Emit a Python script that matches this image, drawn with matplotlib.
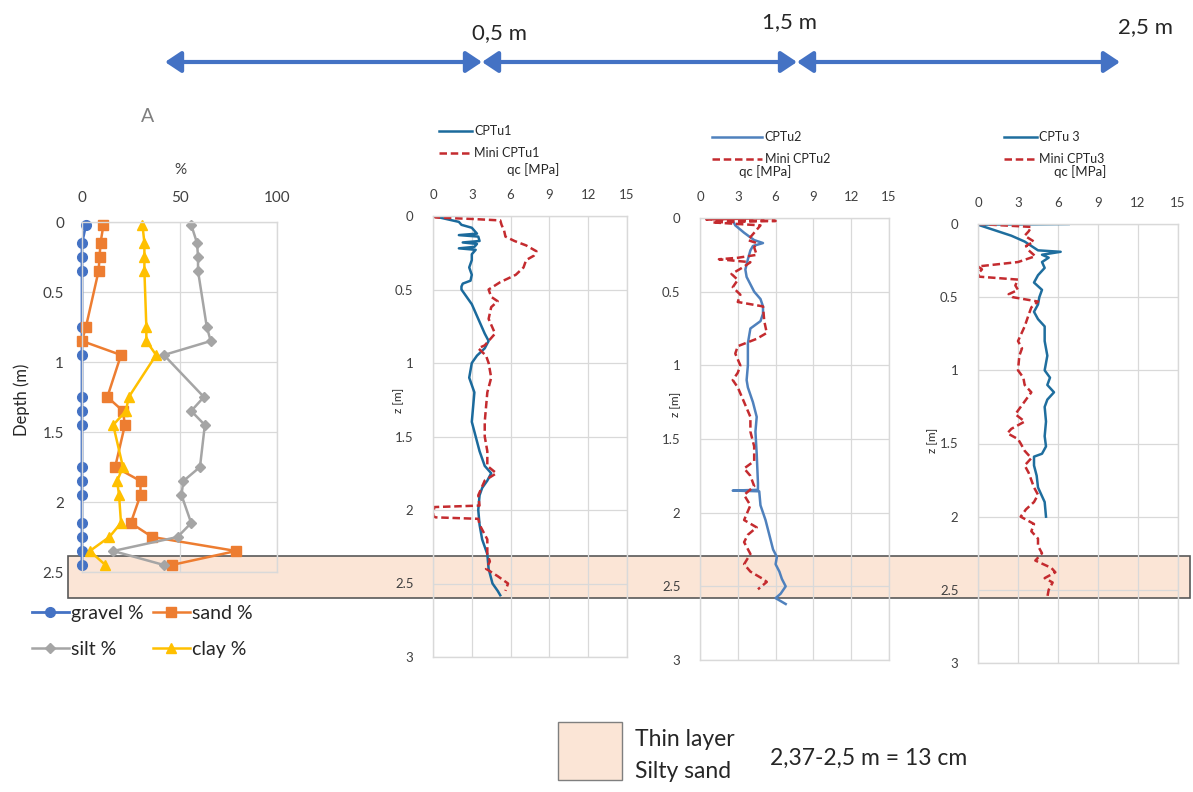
import matplotlib.pyplot as plt
from matplotlib.patches import Rectangle
from matplotlib.lines import Line2D

plt.rcParams['font.family'] = ['Lato', 'DejaVu Sans']

W, H = 1193, 792

# ---------------- panel A: grain size distribution ----------------
depth_a = [0.02, 0.15, 0.25, 0.35, 0.75, 0.85, 0.95, 1.25, 1.35, 1.45,
           1.75, 1.85, 1.95, 2.15, 2.25, 2.35, 2.45]
gravel = [2, 0, 0, 0, 0, 0, 0, 0, 0, 0, 0, 0, 0, 0, 0, 0, 0]
sand = [11, 9.5, 9, 8.5, 2, 0, 20, 13, 21, 22, 17, 30, 30, 25, 36, 79, 46]
silt = [56, 59, 59.5, 59.5, 64, 66, 42, 62.5, 56, 63, 60.5, 52, 51, 56, 49, 16, 42]
clay = [31, 32, 32, 32, 33, 33, 38, 24, 22.5, 16, 21, 18, 19, 20, 14, 4, 12]
pct_ticks = [0, 50, 100]
depth_ticks_a = [0, 0.5, 1, 1.5, 2, 2.5]
depth_labels_a = ['0', '0.5', '1', '1.5', '2', '2.5']

# ---------------- CPTu profiles: z [m], qc [MPa] ----------------
cptu1_z = [0.00, 0.02, 0.04, 0.06, 0.08, 0.10, 0.12, 0.13, 0.14, 0.17,
           0.18, 0.19, 0.21, 0.22, 0.23, 0.26, 0.30, 0.35, 0.40, 0.44,
           0.46, 0.48, 0.50, 0.55, 0.60, 0.70, 0.80, 0.85, 0.90, 0.95,
           1.00, 1.10, 1.15, 1.20, 1.30, 1.40, 1.50, 1.60, 1.70, 1.75,
           1.80, 1.85, 1.90, 2.00, 2.10, 2.20, 2.30, 2.40, 2.50, 2.55, 2.58]
cptu1_q = [0.0, 1.0, 2.0, 2.2, 3.0, 3.2, 3.4, 2.0, 3.5, 3.6,
           2.3, 3.4, 3.2, 2.0, 3.3, 3.0, 3.0, 2.8, 3.0, 2.9,
           2.3, 2.2, 2.2, 2.6, 3.0, 3.5, 4.0, 4.3, 4.0, 3.4,
           3.0, 2.8, 3.0, 3.2, 3.1, 3.0, 3.3, 3.6, 4.0, 4.5,
           4.2, 3.8, 3.6, 3.5, 3.6, 3.8, 4.2, 4.3, 4.6, 5.0, 5.2]
mini1_z = [0.00, 0.01, 0.02, 0.03, 0.06, 0.10, 0.14, 0.17, 0.20, 0.24,
           0.27, 0.30, 0.35, 0.40, 0.45, 0.50, 0.55, 0.58, 0.62, 0.70,
           0.80, 0.88, 0.90, 0.95, 1.00, 1.10, 1.20, 1.30, 1.40, 1.50,
           1.60, 1.70, 1.75, 1.80, 1.90, 1.97, 1.98, 2.04, 2.05, 2.06,
           2.10, 2.20, 2.30, 2.35, 2.40, 2.45, 2.50, 2.55]
mini1_q = [0.0, 0.2, 3.0, 5.2, 5.3, 5.5, 5.6, 6.3, 7.2, 8.0,
           7.8, 7.2, 7.0, 6.4, 5.2, 4.3, 4.5, 5.0, 4.5, 4.3,
           4.8, 4.0, 3.5, 4.1, 4.3, 4.5, 4.2, 4.1, 4.0, 4.0,
           4.2, 4.2, 4.9, 4.0, 3.5, 3.6, 0.1, 0.0, 0.2, 3.5,
           3.6, 4.2, 4.2, 4.4, 4.1, 5.0, 5.8, 5.6]

cptu2_z = [0.00, 0.05, 0.10, 0.15, 0.17, 0.19, 0.22, 0.28, 0.35, 0.40,
           0.50, 0.55, 0.60, 0.65, 0.70, 0.75, 0.85, 1.00, 1.10, 1.15,
           1.25, 1.35, 1.45, 1.60, 1.80, 1.845, 1.85, 1.855, 1.95, 2.05,
           2.15, 2.25, 2.30, 2.35, 2.40, 2.45, 2.50, 2.55, 2.58, 2.62]
cptu2_q = [2.5, 2.8, 3.5, 4.3, 5.0, 4.2, 4.0, 3.8, 3.6, 3.7,
           4.3, 4.8, 5.0, 5.0, 4.8, 4.0, 3.8, 3.8, 3.7, 3.8,
           4.2, 4.5, 4.4, 4.5, 4.6, 4.6, 2.6, 4.7, 4.8, 5.2,
           5.5, 5.8, 6.1, 6.0, 6.3, 6.5, 6.8, 6.4, 6.0, 6.8]
mini2_z = [0.00, 0.01, 0.02, 0.03, 0.05, 0.10, 0.15, 0.17, 0.20, 0.25,
           0.27, 0.28, 0.30, 0.33, 0.38, 0.42, 0.47, 0.52, 0.57, 0.60,
           0.70, 0.78, 0.82, 0.87, 0.92, 1.00, 1.05, 1.10, 1.15, 1.25,
           1.35, 1.45, 1.55, 1.65, 1.70, 1.75, 1.82, 1.88, 1.95, 2.05,
           2.10, 2.15, 2.20, 2.28, 2.35, 2.40, 2.45, 2.47, 2.52]
mini2_q = [6.0, 0.5, 6.0, 1.0, 4.8, 4.3, 3.8, 4.5, 4.3, 4.5,
           3.0, 1.5, 4.0, 3.5, 2.5, 3.0, 2.6, 3.2, 3.0, 5.0,
           5.1, 5.3, 4.5, 3.0, 2.8, 3.2, 3.0, 2.6, 3.0, 3.5,
           4.0, 4.0, 4.3, 4.3, 3.5, 4.0, 4.3, 3.5, 4.0, 3.5,
           4.5, 3.8, 3.5, 4.0, 3.5, 4.0, 5.0, 5.3, 4.6]

cptu3_z = [0.00, 0.005, 0.02, 0.05, 0.08, 0.12, 0.15, 0.18, 0.19, 0.21,
           0.23, 0.26, 0.30, 0.35, 0.40, 0.45, 0.50, 0.55, 0.60, 0.65,
           0.70, 0.80, 0.90, 1.00, 1.05, 1.10, 1.15, 1.20, 1.25, 1.35,
           1.45, 1.52, 1.57, 1.59, 1.65, 1.72, 1.80, 1.90, 2.00]
cptu3_q = [6.8, 0.0, 0.5, 1.5, 2.5, 3.5, 4.0, 4.5, 6.2, 4.8,
           5.3, 4.8, 5.0, 4.5, 4.2, 4.8, 4.6, 4.5, 4.2, 4.5,
           5.0, 5.0, 5.2, 5.0, 5.4, 5.2, 5.7, 5.2, 5.0, 5.1,
           5.0, 5.1, 4.8, 4.2, 4.2, 4.4, 4.5, 5.0, 5.1]
mini3_z = [0.00, 0.01, 0.02, 0.05, 0.08, 0.12, 0.15, 0.18, 0.22, 0.26,
           0.29, 0.31, 0.34, 0.36, 0.38, 0.42, 0.45, 0.48, 0.50, 0.53,
           0.57, 0.62, 0.70, 0.80, 0.85, 0.90, 1.00, 1.05, 1.10, 1.15,
           1.20, 1.25, 1.30, 1.35, 1.40, 1.43, 1.47, 1.50, 1.55, 1.60,
           1.65, 1.70, 1.80, 1.85, 1.90, 1.95, 2.00, 2.05, 2.10, 2.15,
           2.20, 2.25, 2.30, 2.35, 2.38, 2.42, 2.45, 2.50, 2.55]
mini3_q = [0.0, 2.0, 4.0, 3.8, 3.5, 4.2, 3.6, 3.8, 4.3, 3.0,
           0.0, 0.3, 0.0, 0.1, 3.0, 2.8, 3.0, 2.3, 2.6, 4.5,
           4.0, 3.8, 3.5, 3.0, 3.3, 3.1, 3.0, 3.4, 3.5, 4.0,
           3.6, 3.2, 2.8, 3.5, 2.5, 2.2, 3.0, 3.2, 3.5, 4.0,
           3.5, 3.8, 4.2, 4.5, 4.2, 3.6, 3.2, 4.2, 4.0, 4.5,
           4.5, 4.8, 4.3, 5.5, 5.8, 5.0, 5.6, 5.3, 5.2]

qc_ticks = [0, 3, 6, 9, 12, 15]
z_ticks = [0, 0.5, 1, 1.5, 2, 2.5, 3]
z_labels = ['0', '0.5', '1', '1.5', '2', '2.5', '3']

distances = ['0,5 m', '1,5 m', '2,5 m']

GRID = '#D9D9D9'
TXT = '#404040'
RED = '#C42B2F'
PEACH = '#FBE5D6'

fig = plt.figure(figsize=(W / 100, H / 100), dpi=100)

# background layer in pixel coordinates (annotations, band, arrows)
bg = fig.add_axes([0, 0, 1, 1], zorder=0)
bg.set_xlim(0, W)
bg.set_ylim(H, 0)
bg.axis('off')

# thin layer band behind all panels
bg.add_patch(Rectangle((68, 556), 1122, 42, fc=PEACH, ec='#595959', lw=1.2))


def px_axes(left, top, right, bottom):
    return fig.add_axes([left / W, 1 - bottom / H, (right - left) / W, (bottom - top) / H],
                        zorder=1, facecolor='none')


def style(ax, fs, xpad, ypad):
    for s in ax.spines.values():
        s.set_color(GRID)
        s.set_linewidth(1)
    ax.grid(True, color=GRID, lw=0.9)
    ax.set_axisbelow(True)
    ax.xaxis.tick_top()
    ax.tick_params(axis='x', length=0, labelsize=fs, colors=TXT, pad=xpad)
    ax.tick_params(axis='y', length=0, labelsize=fs, colors=TXT, pad=ypad)


# ---- panel A ----
axA = px_axes(82, 222, 277, 572)
style(axA, 11, 12, 13)
axA.set_xlim(0, 100)
axA.set_ylim(2.5, 0)
axA.set_xticks(pct_ticks)
axA.set_yticks(depth_ticks_a)
axA.set_yticklabels(depth_labels_a)

hg, = axA.plot(gravel, depth_a, '-o', color='#4472C4', ms=7, lw=2, clip_on=False, label='gravel %')
hs, = axA.plot(sand, depth_a, '-s', color='#ED7D31', ms=6.5, lw=1.8, clip_on=False, label='sand %')
hsi, = axA.plot(silt, depth_a, '-D', color='#A5A5A5', ms=5, lw=1.8, clip_on=False, label='silt %')
hc, = axA.plot(clay, depth_a, '-^', color='#FFC000', ms=7.5, lw=1.8, clip_on=False, label='clay %')

fig.legend(handles=[hg, hsi, hs, hc], ncol=2, loc='upper left',
           bbox_to_anchor=(22 / W, 1 - 595 / H), frameon=False, fontsize=14,
           handlelength=1.9, handletextpad=0.1, columnspacing=0.5,
           labelspacing=1.0, borderpad=0, labelcolor='#262626')

bg.text(148, 117, 'A', fontsize=14, color='#7F7F7F', ha='center', va='center')
bg.text(180, 170, '%', fontsize=11, color=TXT, ha='center', va='center')
bg.text(22, 400, 'Depth (m)', fontsize=12, color='#262626', rotation=90, ha='center', va='center')

# ---- CPTu panels ----
panels = [
    dict(box=(433, 216, 627, 657), z=cptu1_z, q=cptu1_q, mz=mini1_z, mq=mini1_q,
         name='CPTu1', mini='Mini CPTu1', color='#1B6A9C', leg=(433, 119), hl=2.6,
         qc=(533, 170), zl=(399, 400)),
    dict(box=(700, 218, 889, 660), z=cptu2_z, q=cptu2_q, mz=mini2_z, mq=mini2_q,
         name='CPTu2', mini='Mini CPTu2', color='#4F81BD', leg=(706, 125), hl=4.0,
         qc=(765, 172), zl=(676, 404)),
    dict(box=(978, 224, 1178, 663), z=cptu3_z, q=cptu3_q, mz=mini3_z, mq=mini3_q,
         name='CPTu 3', mini='Mini CPTu3', color='#1F6E9E', leg=(998, 125), hl=2.6,
         qc=(1080, 172), zl=(933, 440)),
]

for p in panels:
    ax = px_axes(*p['box'])
    style(ax, 9.5, 11, 14)
    ax.set_xlim(0, 15)
    ax.set_ylim(3, 0)
    ax.set_xticks(qc_ticks)
    ax.set_yticks(z_ticks)
    ax.set_yticklabels(z_labels)
    h1, = ax.plot(p['q'], p['z'], color=p['color'], lw=1.8, label=p['name'])
    h2, = ax.plot(p['mq'], p['mz'], color=RED, lw=1.8, dashes=(3, 1.5), label=p['mini'])
    lx, ly = p['leg']
    ax.legend(handles=[h1, h2], loc='upper left', bbox_to_anchor=(lx / W, 1 - ly / H),
              bbox_transform=fig.transFigure, frameon=False, fontsize=9,
              handlelength=p['hl'], handletextpad=0.2, labelspacing=0.8,
              borderpad=0, labelcolor='#262626')
    bg.text(p['qc'][0], p['qc'][1], 'qc [MPa]', fontsize=9.5, color='#262626', ha='center', va='center')
    bg.text(p['zl'][0], p['zl'][1], 'z [m]', fontsize=8.5, color='#262626', rotation=90,
            ha='center', va='center')

# ---- distance arrows along the top ----
arrow_x = [165, 482, 797, 1120]
for a, b in zip(arrow_x[:-1], arrow_x[1:]):
    bg.annotate('', xy=(b, 62), xytext=(a, 62),
                arrowprops=dict(arrowstyle='<|-|>,head_length=0.6,head_width=0.4',
                                color='#4472C4', lw=3, mutation_scale=16,
                                shrinkA=0, shrinkB=0))
for label, (tx, ty) in zip(distances, [(500, 33), (790, 22), (1145, 27)]):
    bg.text(tx, ty, label, fontsize=16, color='#262626', ha='center', va='center')

# ---- thin layer legend ----
bg.add_patch(Rectangle((558, 722), 64, 58, fc=PEACH, ec='#7F7F7F', lw=1))
bg.text(635, 740, 'Thin layer', fontsize=16.5, color='#262626', va='center')
bg.text(635, 772, 'Silty sand', fontsize=16.5, color='#262626', va='center')
bg.text(770, 758, '2,37-2,5 m = 13 cm', fontsize=16.5, color='#262626', va='center')

fig.savefig('out.png', dpi=100)
